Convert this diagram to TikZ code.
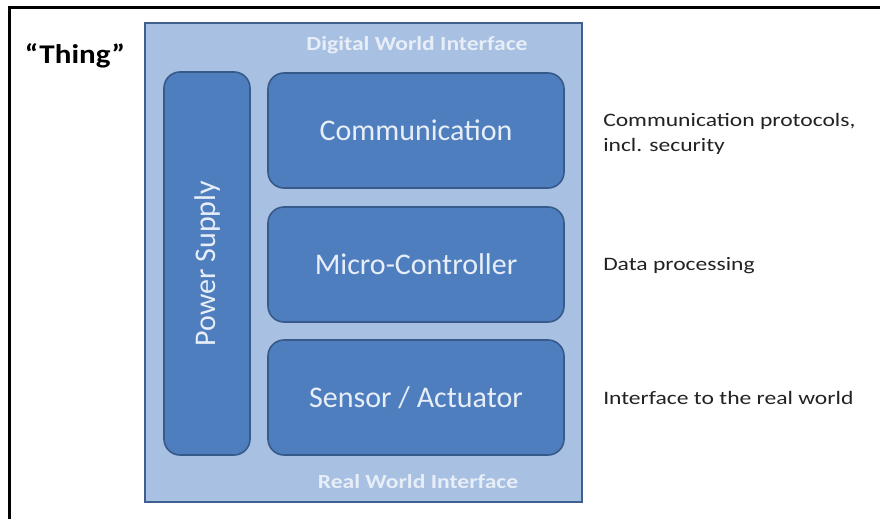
\documentclass[tikz,border=0pt]{standalone}
\usepackage{fontspec}
\setmainfont{Carlito}
\definecolor{outerfill}{HTML}{A8C0E2}
\definecolor{outerdraw}{HTML}{3F5F8F}
\definecolor{innerfill}{HTML}{4E7EBE}
\definecolor{innerdraw}{HTML}{375A8A}
\definecolor{lighttext}{HTML}{E8EEF8}
\definecolor{darktext}{HTML}{222222}
\begin{document}
\begin{tikzpicture}[x=1pt,y=-1pt,
  outerbox/.style={draw=outerdraw,line width=1.6pt,fill=outerfill,inner sep=0pt},
  innerbox/.style={draw=innerdraw,line width=1.6pt,fill=innerfill,rounded corners=16pt,
    inner sep=0pt,text=lighttext,font=\fontsize{30}{34}\selectfont},
  iflabel/.style={text=lighttext,inner sep=0pt,xscale=1.18,font=\bfseries\fontsize{20}{24}\selectfont},
  sidelabel/.style={text=darktext,anchor=west,align=left,inner sep=0pt,xscale=1.24,
    font=\fontsize{19}{25}\selectfont}]
\useasboundingbox (0,0) rectangle (880,519);
\fill[white] (0,0) rectangle (880,519);
\draw[line width=3pt,black] (9,519) -- (9,7.5) -- (880,7.5);
\node[outerbox,minimum width=437pt,minimum height=479pt] (outer) at (363.5,262.5) {};
\node[innerbox,minimum width=86pt,minimum height=383pt] (power) at (207,263.5) {};
\node[text=lighttext,font=\fontsize{30}{34}\selectfont,rotate=90] (powerlabel) at (power.center) {Power Supply};
\node[innerbox,minimum width=296pt,minimum height=115pt] (comm) at (416,130.5) {Communication};
\node[innerbox,minimum width=296pt,minimum height=115pt] (micro) at (416,264.5) {Micro-Controller};
\node[innerbox,minimum width=296pt,minimum height=115pt] (sensor) at (416,397.5) {Sensor / Actuator};
\node[iflabel] (digital) at (417,45) {Digital World Interface};
\node[iflabel] (real) at (418,482) {Real World Interface};
\node[text=black,inner sep=0pt,xscale=1.15,font=\bfseries\fontsize{27}{32}\selectfont] (thing) at (75,56) {“Thing”};
\node[sidelabel] (d1) at (603,134) {Communication protocols,\\incl. security};
\node[sidelabel] (d2) at (603,266) {Data processing};
\node[sidelabel] (d3) at (603,398) {Interface to the real world};
\end{tikzpicture}
\end{document}
